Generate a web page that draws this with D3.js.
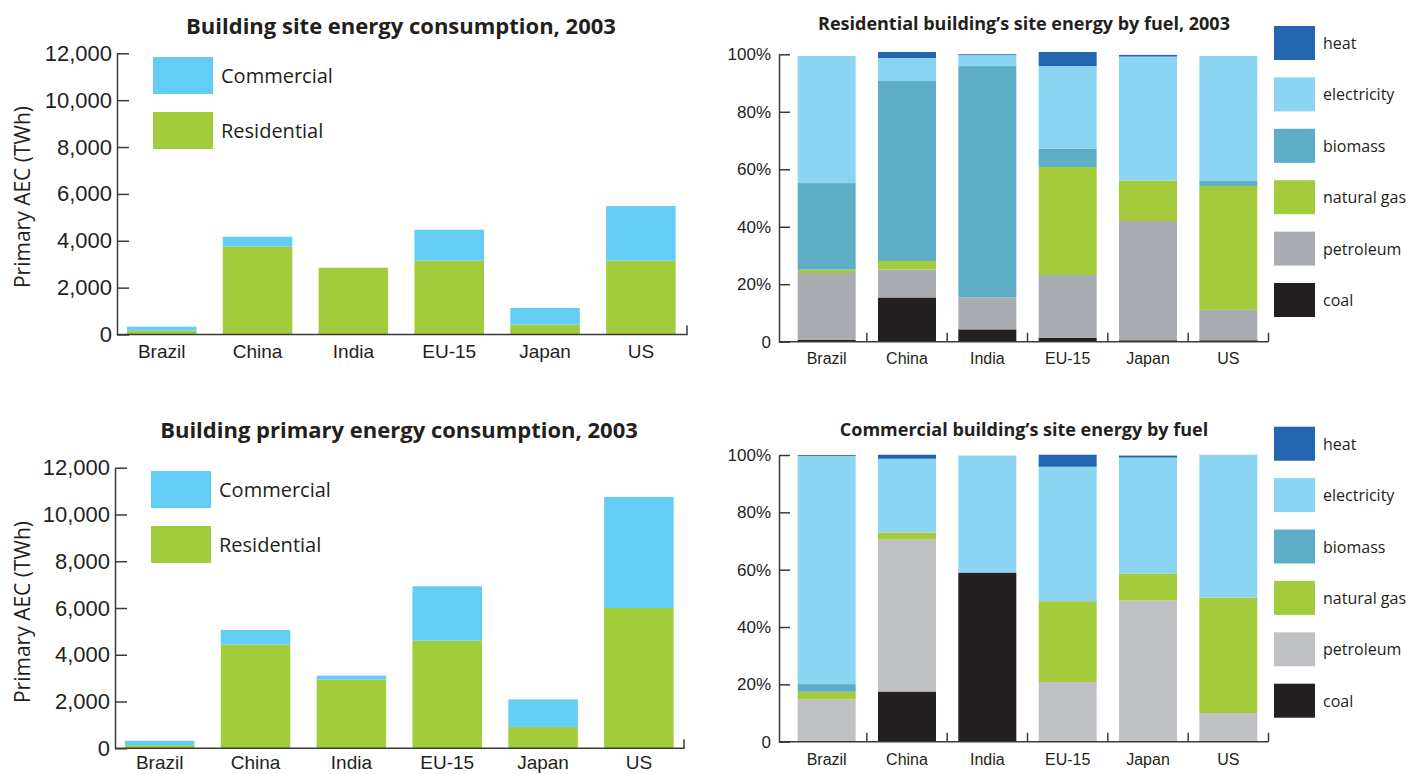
<!DOCTYPE html>
<html>
<head>
<meta charset="utf-8">
<script src="https://cdn.jsdelivr.net/npm/d3@7"></script>
<style>
  html, body { margin: 0; padding: 0; background: #fff; }
  svg { display: block; font-family: "Open Sans", sans-serif; }
  text { fill: #231f20; }
</style>
</head>
<body>
<svg id="chart" width="1408" height="774"></svg>
<script>
// ---------------- data ----------------
const categories = ["Brazil", "China", "India", "EU-15", "Japan", "US"];

// Building site energy consumption, 2003 (TWh)
const siteResidential = [160, 3750, 2850, 3150, 420, 3150];
const siteCommercial  = [170, 420, 0, 1320, 710, 2330];

// Building primary energy consumption, 2003 (TWh)
const primaryResidential = [135, 4430, 2940, 4600, 915, 6000];
const primaryCommercial  = [190, 630, 170, 2330, 1175, 4750];

const yTicksTWh = [0, 2000, 4000, 6000, 8000, 10000, 12000];
const yTicksPct = [0, 20, 40, 60, 80, 100];

const fuels = ["coal", "petroleum", "natural gas", "biomass", "electricity", "heat"];

// Residential building's site energy by fuel, 2003 (% share)
const resCoal        = [0.6, 15.4, 4.3, 1.4, 0.5, 0.5];
const resPetroleum   = [23.3, 9.7, 11.1, 21.8, 41.5, 10.6];
const resNaturalGas  = [1.2, 3.0, 0, 37.6, 14.1, 43.1];
const resBiomass     = [30.1, 62.6, 80.5, 6.3, 0, 1.7];
const resElectricity = [44.2, 8.0, 3.8, 28.8, 43.1, 43.5];
const resHeat        = [0, 2.1, 0.3, 4.9, 0.6, 0];

// Commercial building's site energy by fuel (% share)
const comCoal        = [0, 17.5, 59.0, 0, 0, 0];
const comPetroleum   = [14.8, 53.0, 0, 20.8, 49.3, 10.0];
const comNaturalGas  = [2.6, 2.5, 0, 28.2, 9.4, 40.3];
const comBiomass     = [2.7, 0, 0, 0, 0, 0];
const comElectricity = [79.6, 25.7, 40.8, 46.9, 40.4, 49.8];
const comHeat        = [0.3, 1.4, 0, 4.2, 0.7, 0];

// ---------------- styles ----------------
const COL_COM = "#63cdf5", COL_RES = "#a3cc3c";
const fuelColorsRes = { "coal": "#231f20", "petroleum": "#a9acb0", "natural gas": "#a3cb3b",
  "biomass": "#5eadc7", "electricity": "#8bd5f3", "heat": "#2466ae" };
const fuelColorsCom = Object.assign({}, fuelColorsRes, { "petroleum": "#c0c1c4" });
const AXIS_COL = "#3a3a3a";

const svg = d3.select("#chart");

// ---------------- left charts ----------------
function leftChart(cfg) {
  const g = svg.append("g");
  const x = d3.scaleBand().domain(categories).range([cfg.x0, cfg.x1])
    .paddingInner(0.2745).paddingOuter(0.137);
  const y = d3.scaleLinear().domain([0, 12000]).range([cfg.yBase, cfg.yTop]);

  const table = categories.map((c, i) => ({ cat: c, Residential: cfg.res[i], Commercial: cfg.com[i] }));
  const stack = d3.stack().keys(["Residential", "Commercial"])(table);
  const colors = { Residential: COL_RES, Commercial: COL_COM };

  g.selectAll("g.layer").data(stack).join("g")
    .attr("fill", d => colors[d.key])
    .selectAll("rect").data(d => d).join("rect")
    .attr("x", d => x(d.data.cat))
    .attr("width", x.bandwidth())
    .attr("y", d => y(d[1]))
    .attr("height", d => y(d[0]) - y(d[1]));

  // y axis
  const ya = g.append("g").attr("transform", `translate(${cfg.axisX},0)`)
    .call(d3.axisLeft(y).tickValues(yTicksTWh).tickSize(-12).tickSizeOuter(0).tickPadding(5)
      .tickFormat(d3.format(",")));
  ya.selectAll("path, line").attr("stroke", AXIS_COL).attr("stroke-width", 1.5);
  ya.selectAll("text").attr("font-size", 22).attr("fill", "#231f20");

  // x axis labels
  const xa = g.append("g").attr("transform", `translate(0,${cfg.yBase})`)
    .call(d3.axisBottom(x).tickSize(0).tickPadding(cfg.labelPad));
  xa.select(".domain").remove();
  xa.selectAll("text").attr("font-size", 19).attr("fill", "#231f20");

  // baseline with end tick
  g.append("path")
    .attr("d", `M${cfg.axisX},${cfg.yBase}H${cfg.axisEnd}V${cfg.yBase - 9}`)
    .attr("fill", "none").attr("stroke", AXIS_COL).attr("stroke-width", 1.5);

  // y title
  g.append("text")
    .attr("transform", `translate(22,${cfg.yTitle}) rotate(-90)`)
    .attr("text-anchor", "middle").attr("dominant-baseline", "central")
    .attr("font-size", 21).attr("font-weight", 400)
    .text("Primary AEC (TWh)");

  // title
  g.append("text").attr("x", cfg.titleX).attr("y", cfg.titleY)
    .attr("text-anchor", "middle").attr("dominant-baseline", "central")
    .attr("font-size", 22).attr("font-weight", 700)
    .text(cfg.title);

  // legend
  const leg = [["Commercial", COL_COM], ["Residential", COL_RES]];
  leg.forEach((l, i) => {
    const ly = cfg.legY + i * 55;
    g.append("rect").attr("x", cfg.legX).attr("y", ly).attr("width", 60).attr("height", 37).attr("fill", l[1]);
    g.append("text").attr("x", cfg.legX + 68).attr("y", ly + 18.5)
      .attr("dominant-baseline", "central").attr("font-size", 20).text(l[0]);
  });
}

leftChart({ x0: 113.8, x1: 688.8, axisX: 117, axisEnd: 687, yBase: 334.5, yTop: 53.3,
  res: siteResidential, com: siteCommercial, labelPad: 10, yTitle: 197,
  title: "Building site energy consumption, 2003", titleX: 401, titleY: 25,
  legX: 153, legY: 57 });

leftChart({ x0: 111.8, x1: 686.8, axisX: 115, axisEnd: 684, yBase: 748.3, yTop: 467.7,
  res: primaryResidential, com: primaryCommercial, labelPad: 7, yTitle: 612,
  title: "Building primary energy consumption, 2003", titleX: 399, titleY: 429,
  legX: 151, legY: 471 });

// ---------------- right charts ----------------
function rightChart(cfg) {
  const g = svg.append("g");
  const x = d3.scaleBand().domain(categories).range([786.5, 1268.5])
    .paddingInner(0.278).paddingOuter(0.139);
  const y = d3.scaleLinear().domain([0, 100]).range([cfg.yBase, cfg.yTop]);

  const table = categories.map((c, i) => {
    const row = { cat: c };
    fuels.forEach((f, k) => row[f] = cfg.series[k][i]);
    return row;
  });
  const stack = d3.stack().keys(fuels)(table);

  g.selectAll("g.layer").data(stack).join("g")
    .attr("fill", d => cfg.colors[d.key])
    .selectAll("rect").data(d => d).join("rect")
    .attr("x", d => x(d.data.cat))
    .attr("width", x.bandwidth())
    .attr("y", d => y(d[1]))
    .attr("height", d => Math.max(0, y(d[0]) - y(d[1])));

  const axisX = 779;
  const ya = g.append("g").attr("transform", `translate(${axisX},0)`)
    .call(d3.axisLeft(y).tickValues(yTicksPct).tickSize(-11).tickSizeOuter(0).tickPadding(8)
      .tickFormat(d => d === 0 ? "0" : d + "%"));
  ya.selectAll("path, line").attr("stroke", AXIS_COL).attr("stroke-width", 1.5);
  ya.selectAll("text").attr("font-size", 17).attr("fill", "#231f20");

  const xa = g.append("g").attr("transform", `translate(0,${cfg.yBase})`)
    .call(d3.axisBottom(x).tickSize(0).tickPadding(cfg.labelPad));
  xa.select(".domain").remove();
  xa.selectAll("text").attr("font-size", 16).attr("fill", "#231f20");

  // baseline
  g.append("path").attr("d", `M${axisX},${cfg.yBase}H${x.range()[1]}`)
    .attr("fill", "none").attr("stroke", AXIS_COL).attr("stroke-width", 1.5);
  // boundary ticks
  g.selectAll("line.bt").data(categories).join("line")
    .attr("x1", d => x(d) + x.bandwidth() + (x.step() - x.bandwidth()) / 2)
    .attr("x2", d => x(d) + x.bandwidth() + (x.step() - x.bandwidth()) / 2)
    .attr("y1", cfg.yBase).attr("y2", cfg.yBase - 9)
    .attr("stroke", AXIS_COL).attr("stroke-width", 1.5);

  g.append("text").attr("x", 1024).attr("y", cfg.titleY)
    .attr("text-anchor", "middle").attr("dominant-baseline", "central")
    .attr("font-size", 18).attr("font-weight", 700).text(cfg.title);

  // legend (top to bottom: heat ... coal)
  const legFuels = fuels.slice().reverse();
  legFuels.forEach((f, i) => {
    const ly = cfg.legY + i * 51.4;
    g.append("rect").attr("x", 1274).attr("y", ly).attr("width", 41).attr("height", 34)
      .attr("fill", cfg.colors[f]);
    g.append("text").attr("x", 1323).attr("y", ly + 17)
      .attr("dominant-baseline", "central").attr("font-size", 16).text(f);
  });
}

rightChart({ yBase: 341.7, yTop: 54.3, labelPad: 11, titleY: 23, legY: 26,
  title: "Residential building\u2019s site energy by fuel, 2003",
  colors: fuelColorsRes,
  series: [resCoal, resPetroleum, resNaturalGas, resBiomass, resElectricity, resHeat] });

rightChart({ yBase: 741.7, yTop: 455, labelPad: 12, titleY: 429, legY: 426.7,
  title: "Commercial building\u2019s site energy by fuel",
  colors: fuelColorsCom,
  series: [comCoal, comPetroleum, comNaturalGas, comBiomass, comElectricity, comHeat] });
</script>
</body>
</html>
